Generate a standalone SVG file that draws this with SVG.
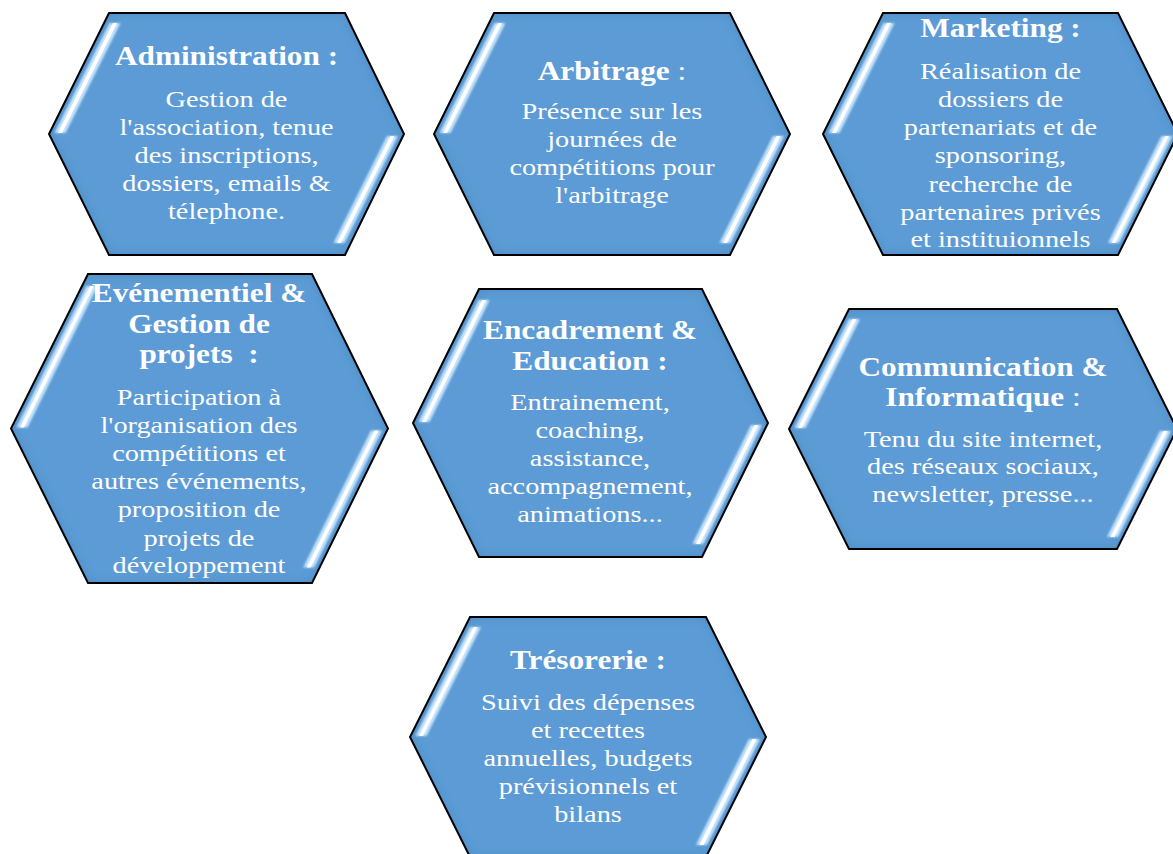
<svg xmlns="http://www.w3.org/2000/svg" width="1173" height="854" viewBox="0 0 1173 854">
<defs>
<style>
.hex{fill:#5b9bd5;stroke:none;filter:url(#inner)}
.edge{fill:none;stroke:#000;stroke-width:2;stroke-linejoin:miter}
.glow{fill:#cde8ff;opacity:.95;filter:url(#soft)}
.core{fill:#ffffff}
text{fill:#ffffff;text-anchor:middle;font-family:"Liberation Serif","Times New Roman",serif}
.tt{font-size:26.5px;font-weight:bold}
.bd{font-size:24px}
.nb{font-weight:normal}
</style>
<filter id="inner" x="-5%" y="-5%" width="110%" height="110%">
<feGaussianBlur in="SourceAlpha" stdDeviation="5" result="b"/>
<feComposite in="SourceAlpha" in2="b" operator="out" result="edge"/>
<feFlood flood-color="#2c5f92" flood-opacity="0.4"/>
<feComposite in2="edge" operator="in" result="shade"/>
<feMerge><feMergeNode in="SourceGraphic"/><feMergeNode in="shade"/></feMerge>
</filter>
<filter id="soft" x="-20%" y="-5%" width="140%" height="110%">
<feGaussianBlur stdDeviation="1.2"/>
</filter>
</defs>
<rect width="1173" height="854" fill="#ffffff"/>
<g id="connectors"/>

<g id="node-administration">
<polygon class="hex" points="109,13 345,13 404,134 345,255 109,255 49,134"/>
<polygon class="glow" points="109.5,23 120.5,23 65.5,133 54.5,133"/>
<polygon class="core" points="113,23 117,23 62,133 58,133"/>
<polygon class="glow" points="387,136 398,136 344.5,243 333.5,243"/>
<polygon class="core" points="390.5,136 394.5,136 341,243 337,243"/>
<polygon class="edge" points="109,13 345,13 404,134 345,255 109,255 49,134"/>
<g transform="translate(226.5,0) scale(1.18,1)">
<text class="tt" x="0" y="65">Administration :</text>
<text class="bd" x="0" y="107">Gestion de</text>
<text class="bd" x="0" y="135">l'association, tenue</text>
<text class="bd" x="0" y="163">des inscriptions,</text>
<text class="bd" x="0" y="191">dossiers, emails &amp;</text>
<text class="bd" x="0" y="219">télephone.</text>
</g>
</g>

<g id="node-arbitrage">
<polygon class="hex" points="494,13 730,13 790,134 730,255 494,255 434,134"/>
<polygon class="glow" points="494.5,23 505.5,23 450.5,133 439.5,133"/>
<polygon class="core" points="498,23 502,23 447,133 443,133"/>
<polygon class="glow" points="773,136 784,136 730.5,243 719.5,243"/>
<polygon class="core" points="776.5,136 780.5,136 727,243 723,243"/>
<polygon class="edge" points="494,13 730,13 790,134 730,255 494,255 434,134"/>
<g transform="translate(612,0) scale(1.18,1)">
<text class="tt" x="0" y="80">Arbitrage<tspan class="nb"> :</tspan></text>
<text class="bd" x="0" y="119">Présence sur les</text>
<text class="bd" x="0" y="147">journées de</text>
<text class="bd" x="0" y="175">compétitions pour</text>
<text class="bd" x="0" y="203">l'arbitrage</text>
</g>
</g>

<g id="node-marketing">
<polygon class="hex" points="883,13 1118,13 1178,134 1118,255 883,255 823,134"/>
<polygon class="glow" points="883.5,23 894.5,23 839.5,133 828.5,133"/>
<polygon class="core" points="887,23 891,23 836,133 832,133"/>
<polygon class="glow" points="1161.5,136 1172.5,136 1119,243 1108,243"/>
<polygon class="core" points="1165,136 1169,136 1115.5,243 1111.5,243"/>
<polygon class="edge" points="883,13 1118,13 1178,134 1118,255 883,255 823,134"/>
<g transform="translate(1000.5,0) scale(1.18,1)">
<text class="tt" x="0" y="37">Marketing :</text>
<text class="bd" x="0" y="79">Réalisation de</text>
<text class="bd" x="0" y="107">dossiers de</text>
<text class="bd" x="0" y="135">partenariats et de</text>
<text class="bd" x="0" y="163">sponsoring,</text>
<text class="bd" x="0" y="192">recherche de</text>
<text class="bd" x="0" y="220">partenaires privés</text>
<text class="bd" x="0" y="247">et instituionnels</text>
</g>
</g>

<g id="node-evenementiel">
<polygon class="hex" points="88,274 312,274 388,428.5 312,583 88,583 11,428.5"/>
<polygon class="glow" points="86.5,286 97.5,286 27.5,427.5 16.5,427.5"/>
<polygon class="core" points="90,286 94,286 24,427.5 20,427.5"/>
<polygon class="glow" points="371,430.5 382,430.5 314.2,567.5 303.2,567.5"/>
<polygon class="core" points="374.5,430.5 378.5,430.5 310.7,567.5 306.7,567.5"/>
<polygon class="edge" points="88,274 312,274 388,428.5 312,583 88,583 11,428.5"/>
<g transform="translate(199,0) scale(1.18,1)">
<text class="tt" x="0" y="302">Evénementiel &amp;</text>
<text class="tt" x="0" y="333">Gestion de</text>
<text class="tt" x="0" y="363">projets&#160; :</text>
<text class="bd" x="0" y="405">Participation à</text>
<text class="bd" x="0" y="433">l'organisation des</text>
<text class="bd" x="0" y="461">compétitions et</text>
<text class="bd" x="0" y="489">autres événements,</text>
<text class="bd" x="0" y="517">proposition de</text>
<text class="bd" x="0" y="546">projets de</text>
<text class="bd" x="0" y="573">développement</text>
</g>
</g>

<g id="node-encadrement">
<polygon class="hex" points="479,289 702,289 768,423 702,557 479,557 413,423"/>
<polygon class="glow" points="478.6,300 489.6,300 429.5,422 418.5,422"/>
<polygon class="core" points="482.1,300 486.1,300 426,422 422,422"/>
<polygon class="glow" points="751,425 762,425 703.4,544 692.4,544"/>
<polygon class="core" points="754.5,425 758.5,425 699.9,544 695.9,544"/>
<polygon class="edge" points="479,289 702,289 768,423 702,557 479,557 413,423"/>
<g transform="translate(590,0) scale(1.18,1)">
<text class="tt" x="0" y="339">Encadrement &amp;</text>
<text class="tt" x="0" y="370">Education :</text>
<text class="bd" x="0" y="410">Entrainement,</text>
<text class="bd" x="0" y="438">coaching,</text>
<text class="bd" x="0" y="466">assistance,</text>
<text class="bd" x="0" y="494">accompagnement,</text>
<text class="bd" x="0" y="522">animations...</text>
</g>
</g>

<g id="node-communication">
<polygon class="hex" points="849,309 1117,309 1177,429 1117,549 849,549 789,429"/>
<polygon class="glow" points="849,319 860,319 805.5,428 794.5,428"/>
<polygon class="core" points="852.5,319 856.5,319 802,428 798,428"/>
<polygon class="glow" points="1160,431 1171,431 1118,537 1107,537"/>
<polygon class="core" points="1163.5,431 1167.5,431 1114.5,537 1110.5,537"/>
<polygon class="edge" points="849,309 1117,309 1177,429 1117,549 849,549 789,429"/>
<g transform="translate(983,0) scale(1.18,1)">
<text class="tt" x="0" y="376">Communication &amp;</text>
<text class="tt" x="0" y="406">Informatique<tspan class="nb"> :</tspan></text>
<text class="bd" x="0" y="447">Tenu du site internet,</text>
<text class="bd" x="0" y="474">des réseaux sociaux,</text>
<text class="bd" x="0" y="502">newsletter, presse...</text>
</g>
</g>

<g id="node-tresorerie">
<polygon class="hex" points="470,617 706,617 766,737 706,857 470,857 410,737"/>
<polygon class="glow" points="470,627 481,627 426.5,736 415.5,736"/>
<polygon class="core" points="473.5,627 477.5,627 423,736 419,736"/>
<polygon class="glow" points="749,739 760,739 707,845 696,845"/>
<polygon class="core" points="752.5,739 756.5,739 703.5,845 699.5,845"/>
<polygon class="edge" points="470,617 706,617 766,737 706,857 470,857 410,737"/>
<g transform="translate(588,0) scale(1.18,1)">
<text class="tt" x="0" y="669">Trésorerie :</text>
<text class="bd" x="0" y="710">Suivi des dépenses</text>
<text class="bd" x="0" y="738">et recettes</text>
<text class="bd" x="0" y="766">annuelles, budgets</text>
<text class="bd" x="0" y="794">prévisionnels et</text>
<text class="bd" x="0" y="822">bilans</text>
</g>
</g>
</svg>
